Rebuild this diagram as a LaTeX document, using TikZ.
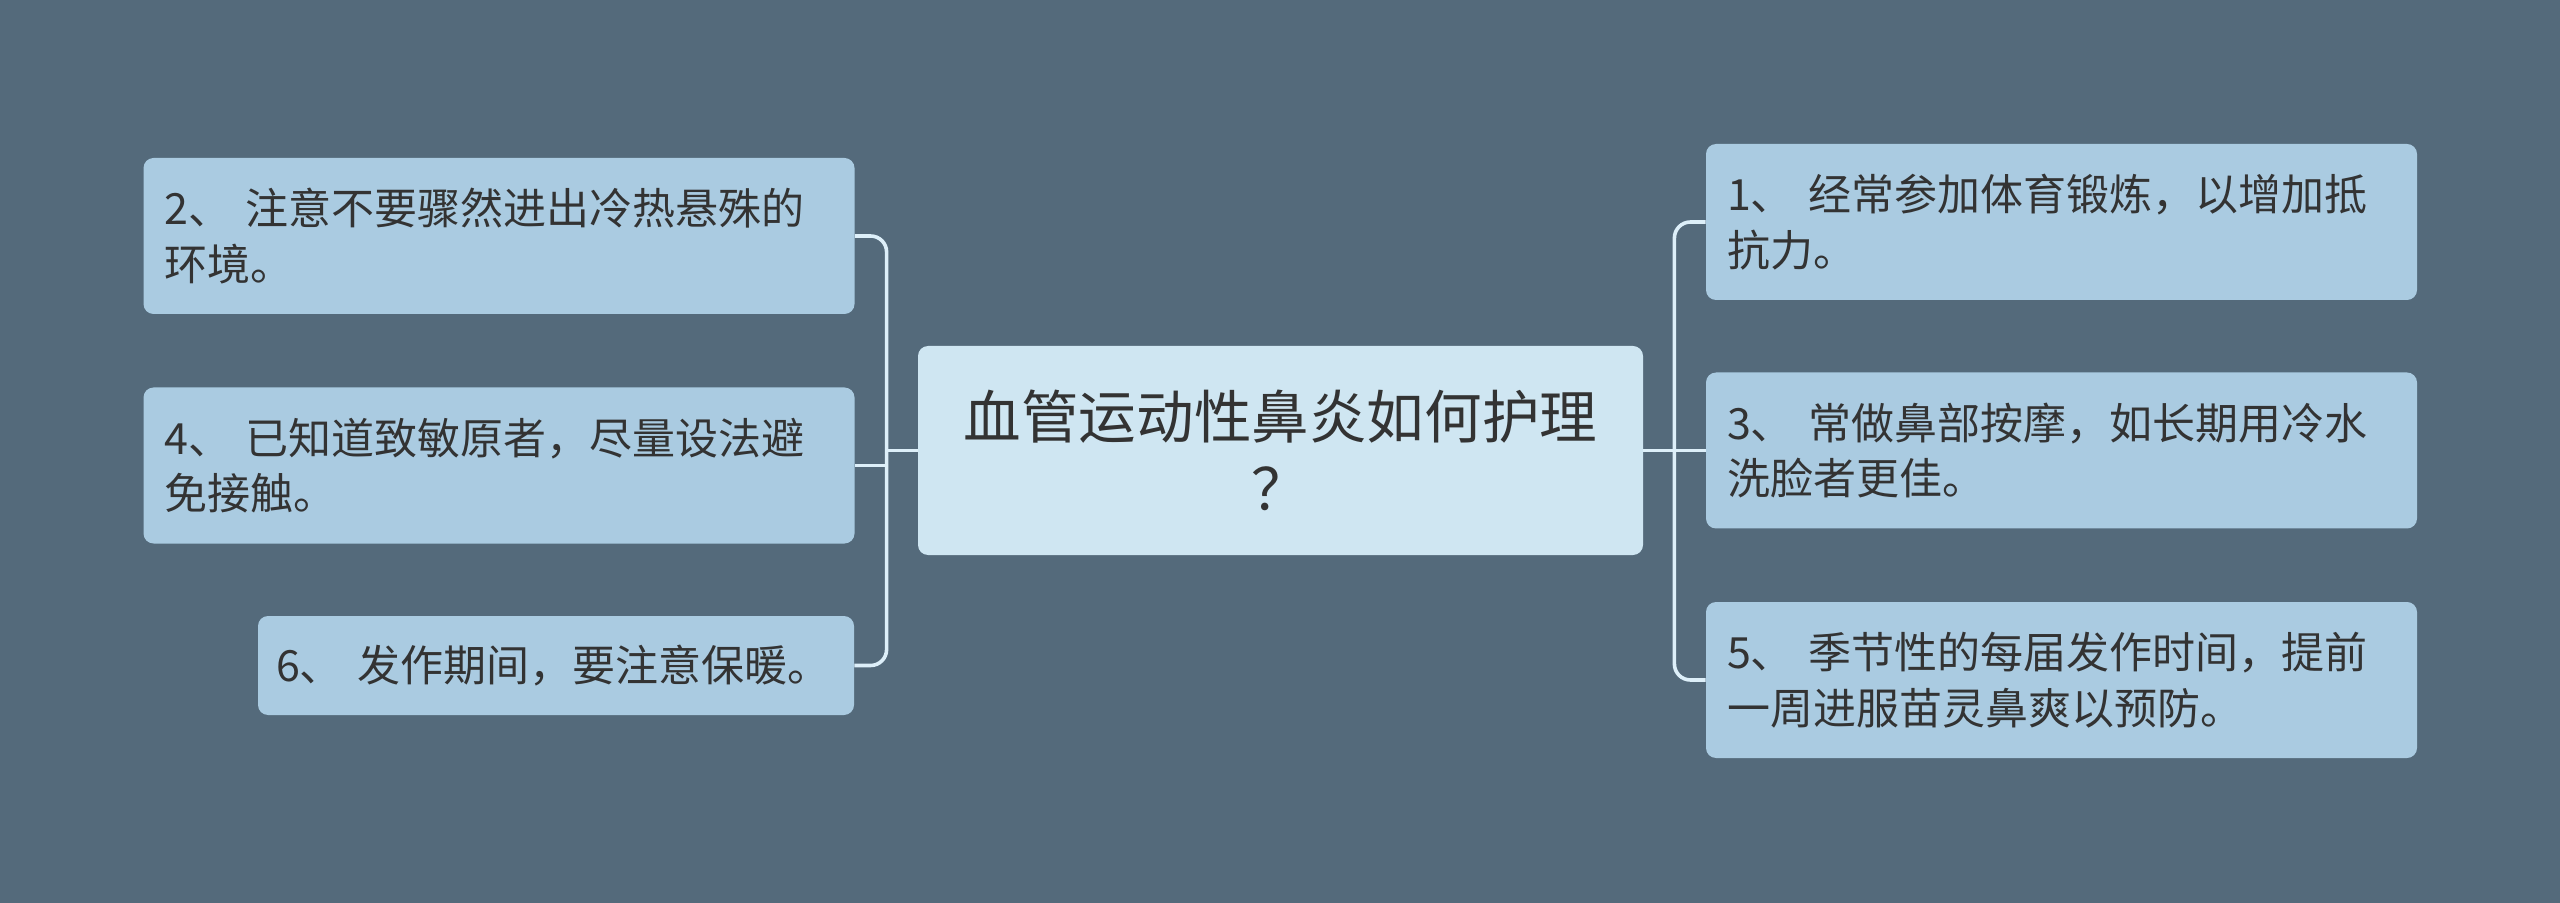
\documentclass[tikz,border=0pt]{standalone}
\usepackage{fontspec}
\setmainfont{Noto Sans CJK SC}
\usepackage{xcolor}
\usetikzlibrary{positioning,calc}
\definecolor{bgslate}{HTML}{546A7B}
\definecolor{leafblue}{HTML}{AACBE1}
\definecolor{rootblue}{HTML}{CFE6F2}
\definecolor{linkblue}{HTML}{DDEFF9}
\definecolor{textgray}{HTML}{333333}
\tikzset{
    root-box/.style={
        rectangle,
        rounded corners=5pt,
        fill=rootblue,
        text=textgray,
        minimum width=362.5pt,
        minimum height=104.5pt,
        text width=340pt,
        align=center,
        font=\fontsize{28.8pt}{36pt}\selectfont
    },
    leaf-box/.style={
        rectangle,
        rounded corners=5pt,
        fill=leafblue,
        text=textgray,
        minimum height=78pt,
        inner xsep=10.5pt,
        align=left,
        font=\fontsize{21.5pt}{27.75pt}\selectfont
    },
    link-line/.style={
        draw=linkblue,
        line width=1.8pt,
        rounded corners=8pt
    }
}

\begin{document}
\begin{tikzpicture}[x=0.5pt,y=-0.5pt]
       \fill[bgslate] (0,0) rectangle (2560,903);
       \useasboundingbox (0,0) rectangle (2560,903);

       \node[root-box] (root) at (1280.5,450.5) {血管运动性鼻炎如何护理\\？};

       \node[leaf-box,text width=334.5pt] (l2) at (499,236) {2、 注意不要骤然进出冷热悬殊的\\环境。};
       \node[leaf-box,text width=334.5pt] (l4) at (499,465.5) {4、 已知道致敏原者，尽量设法避\\免接触。};
       \node[leaf-box,text width=280pt,inner xsep=9pt,minimum height=49.5pt] (l6) at (556,665.5) {6、~发作期间，要注意保暖。};

       \node[leaf-box,text width=334.5pt] (r1) at (2061.5,222) {1、 经常参加体育锻炼，以增加抵\\抗力。};
       \node[leaf-box,text width=334.5pt] (r3) at (2061.5,450.5) {3、 常做鼻部按摩，如长期用冷水\\洗脸者更佳。};
       \node[leaf-box,text width=334.5pt] (r5) at (2061.5,680) {5、 季节性的每届发作时间，提前\\一周进服苗灵鼻爽以预防。};

       \coordinate (lj) at ($(root.west)+(-31,0)$);
       \coordinate (rj) at ($(root.east)+(31,0)$);

       \draw[link-line] (root.west) -- (lj);
       \draw[link-line] (l2.east) -| (lj) |- (l6.east);
       \draw[link-line] (l4.east) -- (l4.east -| lj);

       \draw[link-line] (root.east) -- (rj);
       \draw[link-line] (r1.west) -| (rj) |- (r5.west);
       \draw[link-line] (r3.west) -- (r3.west -| rj);
   \end{tikzpicture}
\end{document}
